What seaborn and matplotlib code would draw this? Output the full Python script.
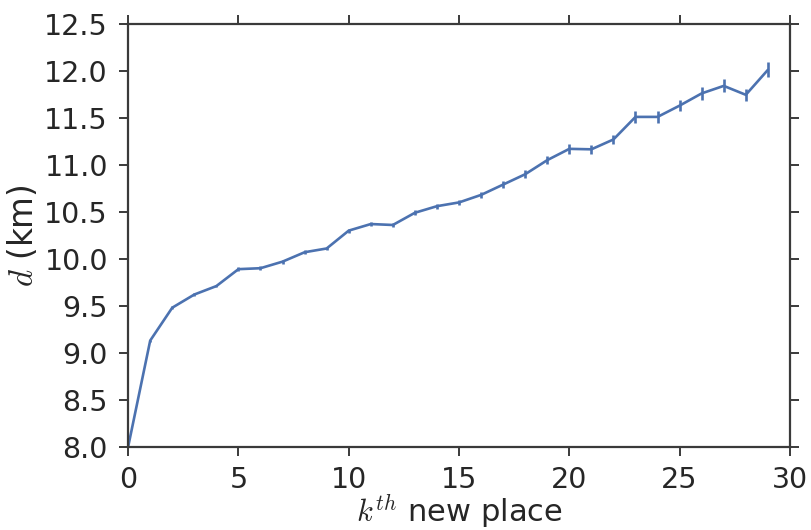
import matplotlib
matplotlib.use("Agg")
import matplotlib.pyplot as plt
import seaborn as sns
import pandas as pd
import numpy as np

k_values = list(range(30))
d_mean = [8.00, 9.13, 9.48, 9.62, 9.71, 9.89, 9.90, 9.97, 10.07, 10.11,
          10.30, 10.37, 10.36, 10.49, 10.56, 10.60, 10.68, 10.79, 10.90, 11.05,
          11.17, 11.165, 11.27, 11.51, 11.51, 11.63, 11.76, 11.84, 11.745, 12.01]
d_err = [0.00, 0.01, 0.015, 0.015, 0.015, 0.02, 0.02, 0.02, 0.02, 0.02,
         0.02, 0.025, 0.025, 0.025, 0.025, 0.027, 0.03, 0.04, 0.045, 0.045,
         0.05, 0.05, 0.05, 0.065, 0.065, 0.06, 0.065, 0.07, 0.065, 0.08]
x_ticks = [0, 5, 10, 15, 20, 25, 30]
y_ticks = [8.0, 8.5, 9.0, 9.5, 10.0, 10.5, 11.0, 11.5, 12.0, 12.5]

df = pd.DataFrame({"k": k_values, "d": d_mean, "err": d_err})

sns.set_style("ticks")
plt.rcParams.update({
    "font.family": ["DejaVu Sans"],
    "mathtext.fontset": "cm",
    "axes.edgecolor": "#3a3a3a",
    "axes.linewidth": 1.6,
    "xtick.major.size": 6.5,
    "ytick.major.size": 6.5,
    "xtick.major.width": 1.4,
    "ytick.major.width": 1.4,
    "xtick.color": "#3a3a3a",
    "ytick.color": "#3a3a3a",
    "xtick.labelcolor": "#262626",
    "ytick.labelcolor": "#262626",
    "xtick.top": True,
    "ytick.right": True,
})

fig = plt.figure(figsize=(8.11, 5.30), dpi=100)
ax = fig.add_axes([0.158, 0.157, 0.816, 0.798])

color = "#4C72B0"
sns.lineplot(data=df, x="k", y="d", ax=ax, color=color, linewidth=1.9)
ax.errorbar(df["k"], df["d"], yerr=df["err"], fmt="none", ecolor=color,
            elinewidth=1.9, capsize=0)

ax.set_xlim(0, 30)
ax.set_ylim(8.0, 12.5)
ax.set_xticks(x_ticks)
ax.set_yticks(y_ticks)
ax.set_yticklabels([f"{v:.1f}" for v in y_ticks])
ax.tick_params(axis="x", which="major", labelsize=20.5, direction="out",
               top=True, pad=7)
ax.tick_params(axis="y", which="major", labelsize=20.5, direction="out",
               right=True, pad=8)
ax.set_xlabel(r"$k^{th}$ new place", fontsize=22, color="#262626", labelpad=-1)
ax.set_ylabel(r"$d$ (km)", fontsize=23.5, color="#262626", labelpad=3)
for s in ax.spines.values():
    s.set_visible(True)

fig.savefig("out.png", dpi=100)
